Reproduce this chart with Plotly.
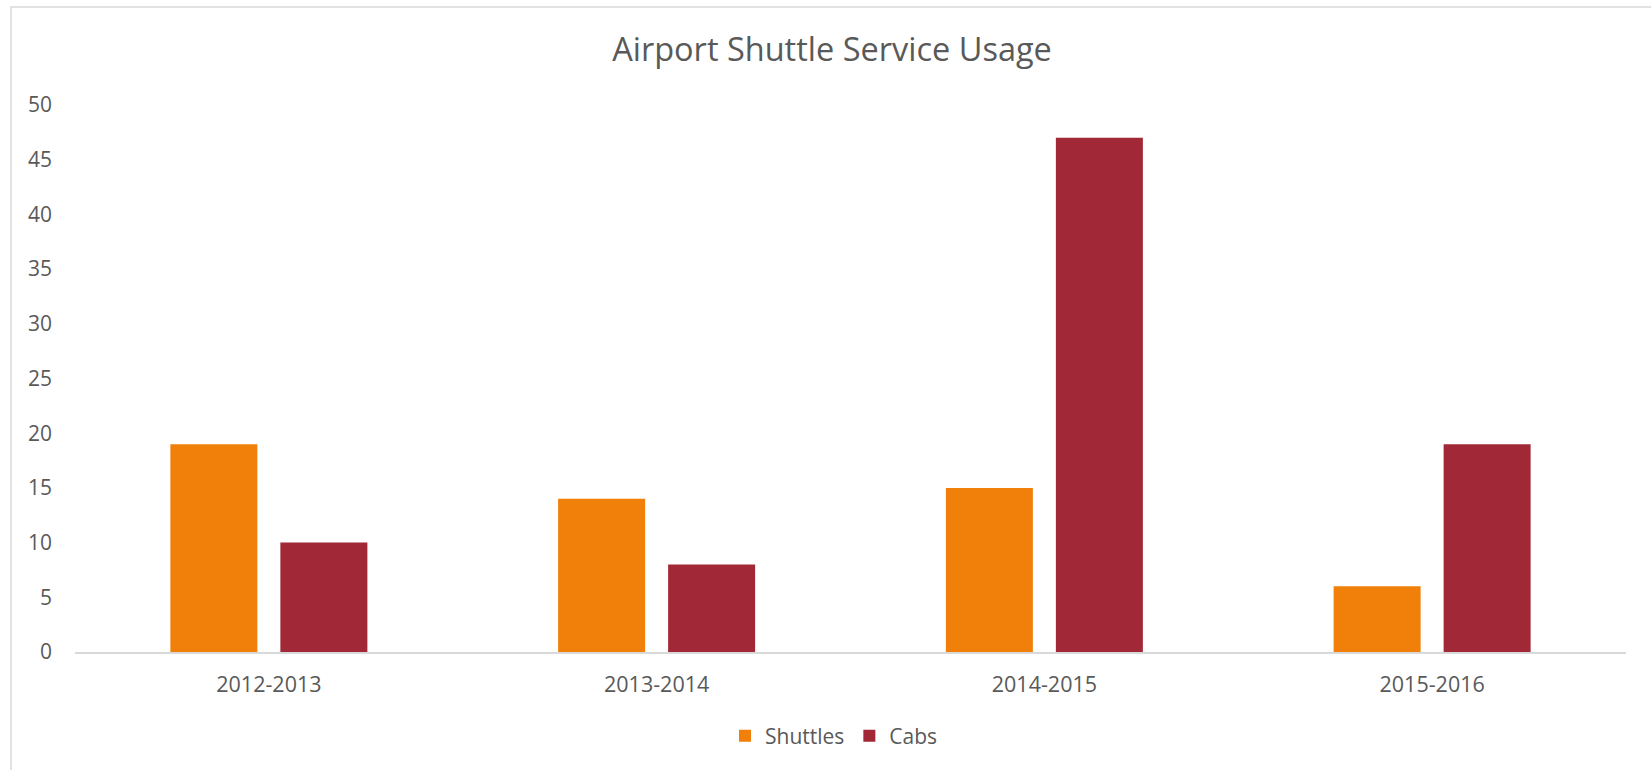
import plotly.graph_objects as go

# Chart data
seasons = ["2012-2013", "2013-2014", "2014-2015", "2015-2016"]
shuttles = [19, 14, 15, 6]
cabs = [10, 8, 47, 19]
y_ticks = [0, 5, 10, 15, 20, 25, 30, 35, 40, 45, 50]

W, H = 1652, 771
ML, MR, MT, MB = 75, 26, 105, 119
TEXT = "#595959"
FONT = "Open Sans"

fig = go.Figure()
fig.add_trace(go.Bar(name="Shuttles", x=seasons, y=shuttles,
                     marker=dict(color="#F0800A", line=dict(width=0))))
fig.add_trace(go.Bar(name="Cabs", x=seasons, y=cabs,
                     marker=dict(color="#A12836", line=dict(width=0))))

pw, ph = W - ML - MR, H - MT - MB


def px_x(x):
    return (x - ML) / pw


def px_y(y):
    return (H - MB - y) / ph


# light chart-area frame along the left and top edges
fx0, fy0 = px_x(11), px_y(7)
fx1, fy1 = px_x(W - 1), px_y(H - 1)
shapes = [
    dict(type="path", xref="paper", yref="paper",
         path=f"M {fx0},{fy1} L {fx0},{fy0} L {fx1},{fy0}",
         line=dict(color="#D9D9D9", width=1.5)),
]

fig.update_layout(
    width=W, height=H,
    margin=dict(l=ML, r=MR, t=MT, b=MB, pad=0),
    paper_bgcolor="white", plot_bgcolor="white",
    font=dict(family=FONT, color=TEXT, size=21),
    title=dict(text="Airport Shuttle Service Usage",
               font=dict(family=FONT, size=32.5, color=TEXT),
               x=832 / W, xanchor="center", xref="container",
               y=1 - 50 / H, yanchor="middle"),
    barmode="group", bargap=0.4326, bargroupgap=0.209,
    showlegend=True,
    legend=dict(orientation="h", x=px_x(834), xanchor="center",
                y=px_y(736), yanchor="middle",
                font=dict(family=FONT, size=21, color=TEXT),
                itemwidth=30, traceorder="normal"),
    shapes=shapes,
)
fig.update_xaxes(showline=True, linecolor="#D9D9D9", linewidth=2,
                 showgrid=False, ticks="", ticklabelstandoff=12,
                 tickfont=dict(family=FONT, size=21.5, color=TEXT))
fig.update_yaxes(range=[0, 50], tickvals=y_ticks, showgrid=False,
                 showline=False, zeroline=False, ticks="",
                 ticklabelstandoff=22,
                 tickfont=dict(family=FONT, size=21, color=TEXT))

fig.write_html("out.html", config={"displayModeBar": False})
